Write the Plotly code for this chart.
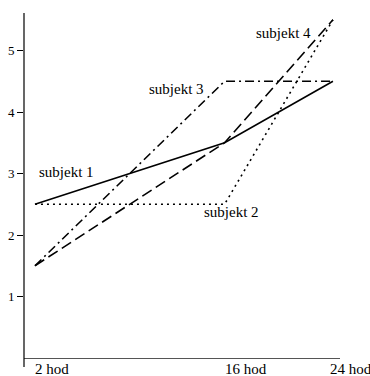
import plotly.graph_objects as go

hours = [2, 16, 24]
hour_labels = ["2 hod", "16 hod", "24 hod"]
subjekt1 = [2.5, 3.5, 4.5]
subjekt2 = [2.5, 2.5, 5.5]
subjekt3 = [1.5, 4.5, 4.5]
subjekt4 = [1.5, 3.5, 5.5]
y_ticks = [1, 2, 3, 4, 5]

series = [
    ("subjekt 1", subjekt1, "solid"),
    ("subjekt 2", subjekt2, "2px,4px"),
    ("subjekt 3", subjekt3, "9px,4px,2px,4px"),
    ("subjekt 4", subjekt4, "11px,5px"),
]

SERIF = "Liberation Serif, Times New Roman, DejaVu Serif, serif"

fig = go.Figure()
for name, vals, dash in series:
    fig.add_trace(go.Scatter(x=hours, y=vals, mode="lines", name=name,
                             line=dict(color="black", width=1.6, dash=dash)))

font = dict(family=SERIF, size=15, color="black")
labels = [
    ("subjekt 1", 2.15, 3.02),
    ("subjekt 2", 14.3, 2.37),
    ("subjekt 3", 10.25, 4.37),
    ("subjekt 4", 18.2, 5.28),
]
for text, x, y in labels:
    fig.add_annotation(x=x, y=y, text=text, showarrow=False, xanchor="left",
                       yanchor="middle", font=font)

label_shifts = [-2, -2, -5]
for h, lab, sh in zip(hours, hour_labels, label_shifts):
    fig.add_annotation(x=h, y=0, yref="y", text=lab, showarrow=False,
                       xanchor="left", yanchor="top", xshift=sh, yshift=-1,
                       font=dict(family=SERIF, size=15, color="black"))

fig.add_shape(type="line", xref="paper", yref="paper", x0=0, x1=0, y0=-0.026, y1=1,
              line=dict(color="black", width=1.2))

fig.update_layout(
    width=370, height=376,
    margin=dict(l=24, r=30, t=13, b=18, autoexpand=False),
    plot_bgcolor="white", paper_bgcolor="white",
    showlegend=False,
    xaxis=dict(range=[1.19, 24.52], showgrid=False, zeroline=False,
               showticklabels=False, ticks="", showline=True, automargin=False,
               linecolor="#555555", linewidth=1.2),
    yaxis=dict(range=[0, 5.61], showgrid=False, zeroline=False, automargin=False,
               tickvals=y_ticks, ticks="outside", ticklen=6, tickcolor="black",
               tickwidth=1, showline=False,
               tickfont=dict(family=SERIF, size=13, color="black")),
)

fig.write_html("out.html", config={"displayModeBar": False},
               post_script="document.body.style.margin='0';document.body.style.padding='0';")
